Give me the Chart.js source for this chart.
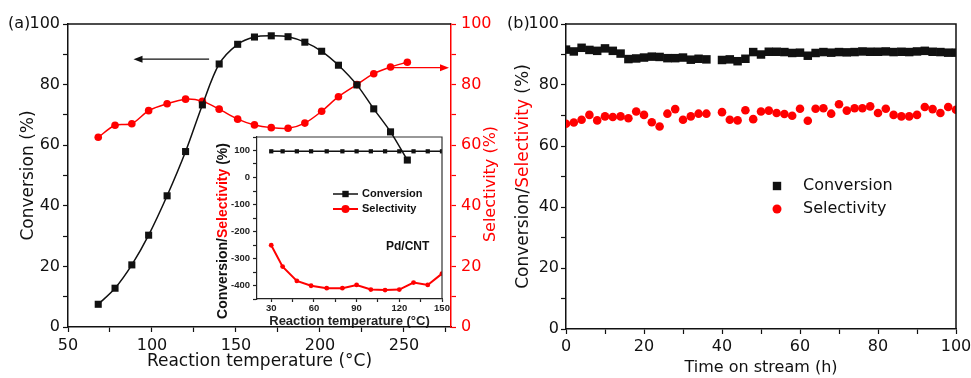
<!DOCTYPE html>
<html>
<head>
<meta charset="utf-8">
<script src="https://cdn.jsdelivr.net/npm/chart.js"></script>
<style>
  body { margin: 0; background: #fff; }
  #wrap { position: relative; width: 971px; height: 378px; overflow: hidden; }
  canvas { position: absolute; }
  #inset { left: 200px; top: 130px; z-index: 1; }
  #chartA { left: 0; top: 0; z-index: 2; }
  #chartB { left: 500px; top: 0; z-index: 3; }
</style>
</head>
<body>
<div id="wrap">
  <canvas id="inset" width="250" height="200"></canvas>
  <canvas id="chartA" width="510" height="378"></canvas>
  <canvas id="chartB" width="471" height="378"></canvas>
</div>
<script>
// (a) conversion / selectivity against reaction temperature
const tempA = [68, 78, 88, 98, 109, 120, 130, 140, 151, 161, 171, 181, 191, 201, 211, 222, 232, 242, 252];
const convA = [7.5, 12.8, 20.5, 30.3, 43.3, 57.9, 73.3, 86.8, 93.3, 95.7, 96.1, 95.8, 94.0, 91.0, 86.4, 79.9, 72.0, 64.4, 55.1];
const selA = [62.6, 66.6, 67.1, 71.4, 73.7, 75.2, 74.5, 71.9, 68.6, 66.7, 65.8, 65.6, 67.3, 71.2, 76.0, 80.0, 83.6, 85.8, 87.4];

// inset, Pd/CNT
const tempIn = [30, 38, 48, 58, 69, 80, 90, 100, 110, 120, 130, 140, 150];
const convIn = [97, 97, 97, 97, 97, 97, 97, 97, 97, 97, 97, 97, 97];
const selIn = [-251, -330, -383, -401, -410, -410, -398, -415, -417, -415, -389, -398, -356];

// (b) stability test, time on stream
const timeB = [0, 2, 4, 6, 8, 10, 12, 14, 16, 18, 20, 22, 24, 26, 28, 30, 32, 34, 36,
  40, 42, 44, 46, 48, 50, 52, 54, 56, 58, 60, 62, 64, 66, 68, 70, 72, 74, 76, 78, 80,
  82, 84, 86, 88, 90, 92, 94, 96, 98, 100];
const convB = [91.6, 91.0, 92.2, 91.5, 91.2, 92.0, 91.2, 90.3, 88.5, 88.7, 89.0, 89.3, 89.2, 88.8, 88.8, 89.0, 88.3, 88.6, 88.4,
  88.2, 88.4, 87.8, 88.6, 90.8, 90.0, 90.9, 90.9, 90.8, 90.5, 90.6, 89.6, 90.5, 90.8, 90.6, 90.8, 90.7, 90.8, 91.0, 90.9, 90.9,
  91.0, 90.8, 90.9, 90.8, 91.0, 91.2, 90.9, 90.8, 90.6, 90.6];
const selB = [67.3, 67.7, 68.6, 70.2, 68.4, 69.7, 69.5, 69.7, 69.1, 71.3, 70.2, 67.8, 66.4, 70.6, 72.1, 68.6, 69.7, 70.6, 70.6,
  71.1, 68.6, 68.4, 71.7, 68.8, 71.3, 71.6, 70.8, 70.5, 69.9, 72.2, 68.3, 72.2, 72.4, 70.6, 73.7, 71.6, 72.4, 72.4, 73.0, 70.8,
  72.2, 70.2, 69.7, 69.7, 70.2, 72.8, 72.1, 70.8, 72.8, 71.9];

const RED = '#ff0000';
const INK = '#111';
const SANS = 'DejaVu Sans';
const BOLD = 'Liberation Sans';

const pts = (xs, ys) => xs.map((x, i) => ({x: x, y: ys[i]}));

// label only every n-th unit, the other ticks are the minor ones
const every = n => v => (Math.abs(v % n) < 1e-6 ? v : '');

// pin the axis box size so the plot areas land where the figure has them
const fixSize = size => s => {
  if (s.isHorizontal()) s.height = size; else s.width = size;
  s.paddingLeft = s.paddingRight = s.paddingTop = s.paddingBottom = 0;
};

function axis(o) {
  const c = o.color || INK;
  return {
    type: 'linear',
    position: o.pos,
    min: o.min,
    max: o.max,
    afterFit: fixSize(o.size),
    border: {display: true, color: c, width: o.bw || 1.5},
    grid: {display: true, drawOnChartArea: false, drawTicks: true, tickLength: o.tl || 5, tickColor: c, tickWidth: 1.2},
    ticks: {stepSize: o.step, includeBounds: false, autoSkip: false, maxRotation: 0, padding: o.pad || 3,
      color: c, font: o.font, callback: every(o.label)},
    title: o.title ? {display: true, text: o.title, color: c, font: o.titleFont, padding: o.titlePad} : {display: false}
  };
}

function arrow(ctx, x1, y1, x2, y2, color) {
  const ang = Math.atan2(y2 - y1, x2 - x1);
  ctx.save();
  ctx.strokeStyle = color; ctx.fillStyle = color; ctx.lineWidth = 1.3;
  ctx.beginPath(); ctx.moveTo(x1, y1); ctx.lineTo(x2 - 6 * Math.cos(ang), y2 - 6 * Math.sin(ang)); ctx.stroke();
  ctx.translate(x2, y2); ctx.rotate(ang);
  ctx.beginPath(); ctx.moveTo(0, 0); ctx.lineTo(-9, -3.5); ctx.lineTo(-9, 3.5); ctx.closePath(); ctx.fill();
  ctx.restore();
}

// rotated title made of differently coloured pieces, read bottom to top
function colourTitle(ctx, parts, cx, cy, font) {
  ctx.save();
  ctx.font = font;
  ctx.textBaseline = 'middle';
  ctx.textAlign = 'left';
  ctx.translate(cx, cy);
  ctx.rotate(-Math.PI / 2);
  let w = 0;
  parts.forEach(p => { w += ctx.measureText(p[0]).width; });
  let x = -w / 2;
  parts.forEach(p => {
    ctx.fillStyle = p[1];
    ctx.fillText(p[0], x, 0);
    x += ctx.measureText(p[0]).width;
  });
  ctx.restore();
}

function marker(ctx, style, x, y, r, color) {
  ctx.fillStyle = color;
  ctx.beginPath();
  if (style === 'rect') ctx.rect(x - r, y - r, 2 * r, 2 * r);
  else ctx.arc(x, y, r, 0, Math.PI * 2);
  ctx.fill();
}

const common = {
  responsive: false,
  animation: false,
  devicePixelRatio: 1,
  events: []
};

// ---------- inset ----------
const insetDeco = {
  id: 'insetDeco',
  afterDraw(chart) {
    const {ctx, chartArea: a} = chart;
    ctx.save();
    ctx.strokeStyle = '#333'; ctx.lineWidth = 1.2;
    ctx.beginPath();
    ctx.moveTo(a.left, a.top); ctx.lineTo(a.right, a.top); ctx.lineTo(a.right, a.bottom);
    ctx.stroke();
    colourTitle(ctx, [['Conversion/', INK], ['Selectivity', RED], [' (%)', INK]], 23, 101, 'bold 14px ' + BOLD);
    // legend
    ctx.lineWidth = 1.5; ctx.strokeStyle = INK;
    ctx.beginPath(); ctx.moveTo(133, 64); ctx.lineTo(158, 64); ctx.stroke();
    marker(ctx, 'rect', 145.5, 64, 3.2, INK);
    ctx.lineWidth = 2; ctx.strokeStyle = RED;
    ctx.beginPath(); ctx.moveTo(133, 79); ctx.lineTo(158, 79); ctx.stroke();
    marker(ctx, 'circle', 145.5, 79, 4, RED);
    ctx.fillStyle = INK;
    ctx.font = 'bold 11px ' + BOLD;
    ctx.textBaseline = 'middle';
    ctx.fillText('Conversion', 162, 64);
    ctx.fillText('Selectivity', 162, 79);
    ctx.font = 'bold 12px ' + BOLD;
    ctx.fillText('Pd/CNT', 186, 117);
    ctx.restore();
  }
};

new Chart(document.getElementById('inset'), {
  type: 'scatter',
  data: {
    datasets: [
      {data: pts(tempIn, convIn), showLine: true, borderColor: INK, borderWidth: 1.5,
        pointStyle: 'rect', pointRadius: 3, backgroundColor: INK, pointBorderWidth: 0},
      {data: pts(tempIn, selIn), showLine: true, borderColor: RED, borderWidth: 2,
        pointStyle: 'circle', pointRadius: 2.4, backgroundColor: RED, pointBorderWidth: 0}
    ]
  },
  options: Object.assign({}, common, {
    layout: {padding: {top: 7, right: 8, left: 0, bottom: 0}},
    plugins: {legend: {display: false}, tooltip: {enabled: false}},
    scales: {
      x: axis({pos: 'bottom', min: 20, max: 150, step: 15, label: 30, size: 31, tl: 3, pad: 1, bw: 1.2, color: '#222',
        font: {family: BOLD, size: 9.5, weight: 'bold'},
        title: 'Reaction temperature (\u00b0C)', titleFont: {family: BOLD, size: 13, weight: 'bold', lineHeight: 1.1},
        titlePad: {top: 0, bottom: 1}}),
      y: axis({pos: 'left', min: -450, max: 150, step: 50, label: 100, size: 57, tl: 4, pad: 3, bw: 1.2, color: '#222',
        font: {family: BOLD, size: 9.5, weight: 'bold'}})
    }
  }),
  plugins: [insetDeco]
});

// ---------- panel (a) ----------
const decoA = {
  id: 'decoA',
  afterDraw(chart) {
    const {ctx, chartArea: a, scales} = chart;
    ctx.save();
    ctx.strokeStyle = INK; ctx.lineWidth = 1.5;
    ctx.beginPath(); ctx.moveTo(a.left, a.top); ctx.lineTo(a.right, a.top); ctx.stroke();
    // arrows telling which axis each curve is read on
    const yb = scales.y.getPixelForValue(88.4);
    arrow(ctx, scales.x.getPixelForValue(134), yb, scales.x.getPixelForValue(89), yb, INK);
    const yr = scales.y2.getPixelForValue(85.6);
    arrow(ctx, scales.x.getPixelForValue(244), yr, a.right - 2, yr, RED);
    // right-hand title reads upwards like the left one
    colourTitle(ctx, [['Selectivity (%)', RED]], 491, 184, '16px ' + SANS);
    ctx.fillStyle = INK;
    ctx.font = '16px ' + SANS;
    ctx.textBaseline = 'middle';
    ctx.fillText('(a)', 8, a.top);
    ctx.restore();
  }
};

new Chart(document.getElementById('chartA'), {
  type: 'scatter',
  data: {
    datasets: [
      {data: pts(tempA, convA), yAxisID: 'y', showLine: true, tension: 0.3, borderColor: INK, borderWidth: 1.5,
        pointStyle: 'rect', pointRadius: 5, backgroundColor: INK, pointBorderWidth: 0},
      {data: pts(tempA, selA), yAxisID: 'y2', showLine: true, tension: 0.3, borderColor: RED, borderWidth: 1.5,
        pointStyle: 'circle', pointRadius: 3.8, backgroundColor: RED, pointBorderWidth: 0}
    ]
  },
  options: Object.assign({}, common, {
    layout: {padding: {top: 24, right: 0, left: 0, bottom: 0}},
    plugins: {legend: {display: false}, tooltip: {enabled: false}},
    scales: {
      x: axis({pos: 'bottom', min: 50, max: 278, step: 25, label: 50, size: 51, pad: 4,
        font: {family: SANS, size: 16},
        title: 'Reaction temperature (\u00b0C)', titleFont: {family: SANS, size: 17, lineHeight: 1.2},
        titlePad: {top: 0, bottom: 6}}),
      y: axis({pos: 'left', min: 0, max: 100, step: 10, label: 20, size: 68, pad: 3,
        font: {family: SANS, size: 16},
        title: 'Conversion (%)', titleFont: {family: SANS, size: 17, lineHeight: 1.2},
        titlePad: {top: 18, bottom: 0}}),
      y2: axis({pos: 'right', min: 0, max: 100, step: 10, label: 20, size: 59, pad: 5, color: RED,
        font: {family: SANS, size: 16}})
    }
  }),
  plugins: [decoA]
});

// ---------- panel (b) ----------
const decoB = {
  id: 'decoB',
  afterDraw(chart) {
    const {ctx, chartArea: a} = chart;
    ctx.save();
    ctx.strokeStyle = INK; ctx.lineWidth = 1.5;
    ctx.beginPath();
    ctx.moveTo(a.left, a.top); ctx.lineTo(a.right, a.top); ctx.lineTo(a.right, a.bottom);
    ctx.stroke();
    colourTitle(ctx, [['Conversion/', INK], ['Selectivity', RED], [' (%)', INK]], 24, (a.top + a.bottom) / 2, '17px ' + SANS);
    ctx.fillStyle = INK;
    ctx.font = '16px ' + SANS;
    ctx.textBaseline = 'middle';
    ctx.fillText('(b)', 7, a.top);
    // legend
    marker(ctx, 'rect', 277, 186, 4.2, INK);
    marker(ctx, 'circle', 277, 209, 4.5, RED);
    ctx.fillStyle = INK;
    ctx.fillText('Conversion', 303, 186);
    ctx.fillText('Selectivity', 303, 209);
    ctx.restore();
  }
};

new Chart(document.getElementById('chartB'), {
  type: 'scatter',
  data: {
    datasets: [
      {data: pts(timeB, convB), pointStyle: 'rect', pointRadius: 6, backgroundColor: INK, pointBorderWidth: 0},
      {data: pts(timeB, selB), pointStyle: 'circle', pointRadius: 4.3, backgroundColor: RED, pointBorderWidth: 0}
    ]
  },
  options: Object.assign({}, common, {
    layout: {padding: {top: 24, right: 15, left: 0, bottom: 0}},
    plugins: {legend: {display: false}, tooltip: {enabled: false}},
    scales: {
      x: axis({pos: 'bottom', min: 0, max: 100, step: 10, label: 20, size: 49, pad: 3,
        font: {family: SANS, size: 16},
        title: 'Time on stream (h)', titleFont: {family: SANS, size: 16, lineHeight: 1.2},
        titlePad: {top: 0, bottom: 1}}),
      y: axis({pos: 'left', min: 0, max: 100, step: 10, label: 20, size: 66, pad: 2,
        font: {family: SANS, size: 16}})
    }
  }),
  plugins: [decoB]
});
</script>
</body>
</html>
